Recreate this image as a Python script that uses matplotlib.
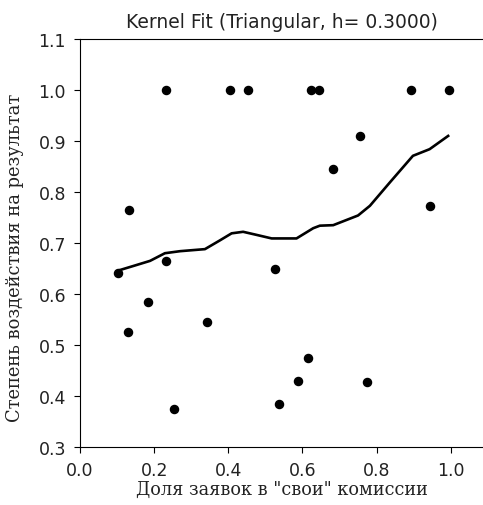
import matplotlib
matplotlib.use("Agg")
import matplotlib.pyplot as plt

# scatter data
share_own = [0.231, 0.404, 0.453, 0.622, 0.644, 0.894, 0.995,
             0.755, 0.683, 0.133, 0.945, 0.103, 0.232, 0.526,
             0.184, 0.130, 0.342, 0.614, 0.588, 0.774, 0.538, 0.254]
impact = [1.0, 1.0, 1.0, 1.0, 1.0, 1.0, 1.0,
          0.910, 0.846, 0.765, 0.773, 0.641, 0.664, 0.649,
          0.584, 0.525, 0.546, 0.475, 0.430, 0.427, 0.385, 0.375]

# kernel fit curve
fit_x = [0.103, 0.144, 0.189, 0.229, 0.270, 0.337, 0.377, 0.409, 0.440, 0.476, 0.517,
         0.584, 0.629, 0.647, 0.683, 0.750, 0.782, 0.836, 0.898, 0.943, 0.993]
fit_y = [0.646, 0.655, 0.665, 0.680, 0.684, 0.688, 0.705, 0.719, 0.722, 0.716, 0.709,
         0.709, 0.729, 0.734, 0.735, 0.754, 0.773, 0.819, 0.871, 0.884, 0.910]

x_ticks = [0.0, 0.2, 0.4, 0.6, 0.8, 1.0]
y_ticks = [0.3, 0.4, 0.5, 0.6, 0.7, 0.8, 0.9, 1.0, 1.1]

title = "Kernel Fit (Triangular, h= 0.3000)"
x_label = "Доля заявок в \"свои\" комиссии"
y_label = "Степень воздействия на результат"

fig = plt.figure(figsize=(4.83, 5.06), dpi=100)
ax = fig.add_axes([0.1656, 0.1146, 0.8344, 0.8063])

ax.plot(fit_x, fit_y, color="black", linewidth=1.9)
ax.scatter(share_own, impact, s=34, color="black", zorder=3)

ax.set_xlim(0.0, 1.087)
ax.set_ylim(0.3, 1.1)
ax.set_xticks(x_ticks)
ax.set_yticks(y_ticks)
ax.set_xticklabels([f"{v:.1f}" for v in x_ticks], fontfamily="DejaVu Sans", fontsize=12.5, color="#222222")
ax.set_yticklabels([f"{v:.1f}" for v in y_ticks], fontfamily="DejaVu Sans", fontsize=12.5, color="#222222")
ax.tick_params(direction="out", length=4, width=0.8, pad=6)

ax.spines["right"].set_visible(False)
for side in ("left", "bottom", "top"):
    ax.spines[side].set_linewidth(0.8)

ax.set_title(title, fontfamily="DejaVu Sans", fontsize=13.5, color="#222222", pad=9)
ax.set_xlabel(x_label, fontfamily="DejaVu Serif", fontsize=12.7, color="#222222", labelpad=1)
ax.set_ylabel(y_label, fontfamily="DejaVu Serif", fontsize=12.9, color="#222222")
ax.yaxis.set_label_coords(-0.138, 0.466)

fig.savefig("out.png", dpi=100)
